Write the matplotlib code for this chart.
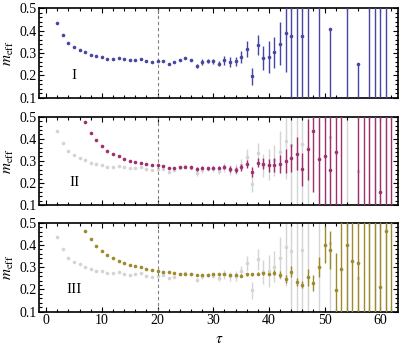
import numpy as np
import matplotlib
matplotlib.use("Agg")
import matplotlib.pyplot as plt
from matplotlib.ticker import MultipleLocator

plt.rcParams['font.family'] = ['Liberation Serif', 'DejaVu Serif']
plt.rcParams['mathtext.fontset'] = 'stix'

nan = np.nan

# ---- Panel I (blue) ----
tau1 = list(range(2, 63))
m1 = [0.435, 0.380, 0.343, 0.325, 0.313, 0.303, 0.291, 0.285, 0.283, 0.274,
      0.273, 0.277, 0.271, 0.267, 0.268, 0.273, 0.262, 0.258, 0.262, 0.264,
      0.250, 0.258, 0.268, 0.276, 0.268, 0.243, 0.259, 0.264, 0.262, 0.252,
      0.268, 0.259, 0.262, 0.282, 0.317, 0.196, 0.335, 0.279, 0.283, 0.303,
      0.341, 0.389, 0.374, 0.620, 0.377, 0.050, nan, 0.620, nan, 0.407,
      nan, nan, 0.000, nan, 0.253, nan, 0.600, 0.000, 0.620, 0.050, nan]
err1_lo = [0.002]*9 + [0.003]*10 + [0.004]*5 + \
          [0.006, 0.010, 0.012, 0.010, 0.012, 0.012, 0.020, 0.021, 0.022, 0.025,
           0.035, 0.039, 0.046, 0.054, 0.072, 0.070, 0.096, 0.173, 0.500, 0.600,
           0.500, 0.600, 0.0, 0.600, 0.0, 0.500, 0.0, 0.0, 0.600, 0.0,
           0.400, 0.0, 0.600, 0.600, 0.600, 0.600, 0.0]
err1_hi = [0.002]*9 + [0.003]*10 + [0.004]*5 + \
          [0.006, 0.010, 0.012, 0.010, 0.012, 0.012, 0.020, 0.021, 0.022, 0.025,
           0.035, 0.039, 0.046, 0.054, 0.072, 0.070, 0.096, 0.173, 0.500, 0.600,
           0.500, 0.600, 0.0, 0.600, 0.0, 0.000, 0.0, 0.0, 0.600, 0.0,
           0.000, 0.0, 0.600, 0.600, 0.600, 0.600, 0.0]

# ---- Panel II (magenta) ----
tau2 = list(range(7, 63))
m2 = [0.477, 0.428, 0.393, 0.367, 0.345, 0.331, 0.321, 0.308, 0.301, 0.296,
      0.292, 0.284, 0.280, 0.280, 0.278, 0.269, 0.269, 0.271, 0.274, 0.271,
      0.263, 0.268, 0.266, 0.268, 0.268, 0.271, 0.263, 0.259, 0.271, 0.284,
      0.248, 0.292, 0.286, 0.280, 0.282, 0.287, 0.299, 0.314, 0.332, 0.262,
      0.352, 0.435, 0.310, 0.322, 0.257, 0.341, 0.600, nan, nan, 0.650,
      0.000, 0.620, 0.020, 0.160, 0.600, 0.000]
err2 = [0.003]*19 + [0.007]*6 + \
       [0.009, 0.012, 0.013, 0.015, 0.018, 0.022, 0.020, 0.025, 0.030, 0.033,
        0.040, 0.053, 0.064, 0.074, 0.074, 0.137, 0.275] + [0.6]*14

# ---- Panel III (olive) ----
tau3 = list(range(7, 63))
m3 = [0.462, 0.425, 0.395, 0.371, 0.353, 0.342, 0.330, 0.319, 0.312, 0.304,
      0.299, 0.293, 0.288, 0.284, 0.280, 0.277, 0.273, 0.270, 0.271, 0.268,
      0.267, 0.266, 0.265, 0.268, 0.268, 0.268, 0.265, 0.265, 0.262, 0.268,
      0.268, 0.271, 0.273, 0.270, 0.276, 0.267, 0.245, 0.280, 0.233, 0.221,
      0.255, 0.228, 0.300, 0.402, 0.378, 0.198, 0.293, 0.398, 0.329, 0.319,
      0.600, 0.000, 0.620, 0.209, 0.461, 0.000]
err3 = [0.003]*28 + [0.006]*6 + \
       [0.010, 0.015, 0.018, 0.025, 0.018, 0.016, 0.038, 0.035, 0.046, 0.085,
        0.085, 0.167, 0.300] + [0.6]*9

panel_labels = ["I", "II", "III"]
colors = ["#4747A3", "#9E306F", "#9C8A2C"]
gray = "#D4D4D4"

W, H = 399, 350
fig = plt.figure(figsize=(W/100, H/100), dpi=100)
left = 39.3 / W
width = (398.3 - 39.3) / W
boxes = [(8.3, 97.7), (116.7, 205.0), (222.7, 311.7)]

series = [(tau1, m1, [err1_lo, err1_hi]),
          (tau2, m2, err2),
          (tau3, m3, err3)]

ekw = dict(fmt='o', ms=2.6, capsize=1.5, elinewidth=1.0, capthick=1.0,
           markeredgewidth=0)

for i, (top, bot) in enumerate(boxes):
    ax = fig.add_axes([left, 1 - bot / H, width, (bot - top) / H])
    ax.set_xlim(-1.24, 63.24)
    ax.set_ylim(0.1, 0.5)
    if i > 0:
        ax.errorbar(tau1, m1, yerr=[err1_lo, err1_hi], color=gray, zorder=1, **ekw)
    t, m, e = series[i]
    ax.errorbar(t, m, yerr=e, color=colors[i], zorder=3, **ekw)
    ax.axvline(20, color='#808080', lw=0.8, ls=(0, (3, 2.5)), zorder=2)
    ax.text(5, 0.2, panel_labels[i], ha='center', va='center', fontsize=11)

    ax.xaxis.set_major_locator(MultipleLocator(10))
    ax.xaxis.set_minor_locator(MultipleLocator(2))
    ax.yaxis.set_major_locator(MultipleLocator(0.1))
    ax.yaxis.set_minor_locator(MultipleLocator(0.02))
    ax.tick_params(which='both', direction='in', top=True, right=True,
                   labelsize=10, width=0.8, pad=2)
    ax.tick_params(which='major', length=3.5)
    ax.tick_params(which='minor', length=2)
    ax.set_yticks([0.1, 0.2, 0.3, 0.4, 0.5])
    ax.set_yticklabels(["0.1", "0.2", "0.3", "0.4", "0.5"])
    for s in ax.spines.values():
        s.set_linewidth(1.2)
    if i < 2:
        ax.tick_params(labelbottom=False)
    else:
        ax.set_xticks([0, 10, 20, 30, 40, 50, 60])
        ax.set_xlabel(r'$\tau$', fontsize=11, labelpad=4)
    ax.set_ylabel(r'$m_{\mathrm{eff}}$', fontsize=11, labelpad=2)

fig.savefig("out.png", dpi=100)
